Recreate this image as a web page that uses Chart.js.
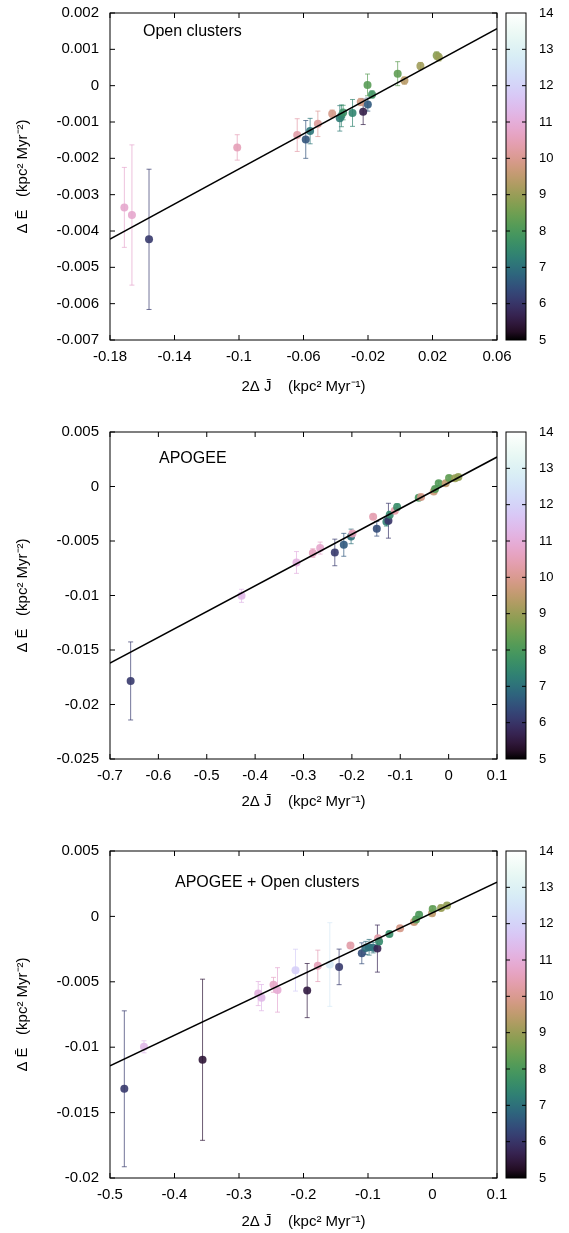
<!DOCTYPE html>
<html>
<head>
<meta charset="utf-8">
<script src="https://cdn.jsdelivr.net/npm/chart.js@4.4.1/dist/chart.umd.min.js"></script>
<style>
  body { margin: 0; background: #fff; width: 569px; height: 1233px; position: relative; overflow: hidden; }
  canvas { position: absolute; left: 0; }
</style>
</head>
<body>
<canvas id="oc-chart" width="569" height="400" style="top:0px"></canvas>
<canvas id="apogee-chart" width="569" height="420" style="top:400px"></canvas>
<canvas id="all-chart" width="569" height="413" style="top:820px"></canvas>
<script>
// Open clusters: 2dJ, dE, error on dE, colour value
const ocX = [-0.1711, -0.1664, -0.1558, -0.1011, -0.0639, -0.0586, -0.0559, -0.0511, -0.0422, -0.0375, -0.0365, -0.0354, -0.0296, -0.0245, -0.0230, -0.0201, -0.0203, -0.0175, -0.0016, 0.0026, 0.0125, 0.0226, 0.0239];
const ocY = [-0.00335, -0.00356, -0.00423, -0.00170, -0.00136, -0.00148, -0.00125, -0.00105, -0.00077, -0.00090, -0.00083, -0.00074, -0.00075, -0.00045, -0.00072, -0.00052, 0.00002, -0.00024, 0.00033, 0.00014, 0.00054, 0.00083, 0.00078];
const ocErr = [0.0011, 0.00193, 0.00193, 0.00035, 0.00045, 0.00052, 0.00035, 0.00035, 0.0001, 0.00035, 0.0003, 0.0002, 0.00037, 0.0001, 0.00035, 0.00018, 0.0003, 0.0001, 0.00033, 0.0001, 0.0001, 0.0001, 0.0001];
const ocC = [10.8, 10.8, 6.1, 10.5, 10.3, 6.5, 7.1, 10.1, 9.9, 7.2, 7.4, 7.7, 7.4, 9.8, 5.6, 6.6, 8.2, 7.8, 8.3, 9.4, 9.1, 8.8, 9.0];
const ocFit = [0.02414, 0.00012]; // slope, intercept

// APOGEE
const apX = [-0.6573, -0.4281, -0.3145, -0.2807, -0.2656, -0.2353, -0.2167, -0.2016, -0.1988, -0.1561, -0.1485, -0.1286, -0.1244, -0.1217, -0.1114, -0.1065, -0.0618, -0.0570, -0.0308, -0.0281, -0.0205, -0.0060, 0.0009, 0.0133, 0.0201];
const apY = [-0.01784, -0.01003, -0.00697, -0.00611, -0.00565, -0.00605, -0.00535, -0.00458, -0.00431, -0.00278, -0.00388, -0.00323, -0.00314, -0.00259, -0.00222, -0.00189, -0.00103, -0.00097, -0.00045, -0.00023, 0.00029, 0.00029, 0.00078, 0.00075, 0.00087];
const apErr = [0.00358, 0.0006, 0.001, 0.0004, 0.00055, 0.00122, 0.00105, 0.00067, 0.0002, 0.0002, 0.00067, 0.0004, 0.0016, 0.0003, 0.0002, 0.0003, 0.0002, 0.0002, 0.0002, 0.0002, 0.0002, 0.0002, 0.0002, 0.0002, 0.0002];
const apC = [6.1, 11.3, 11.1, 10.6, 10.8, 6.1, 6.6, 7.0, 10.5, 10.4, 6.4, 7.3, 6.0, 7.5, 10.3, 7.6, 7.9, 9.9, 9.7, 8.1, 8.1, 9.5, 8.3, 9.0, 8.9];
const apFit = [0.02364, 0.00034];

// APOGEE + open clusters
const alX = [-0.4778, -0.4473, -0.3565, -0.2702, -0.2651, -0.2465, -0.2403, -0.2124, -0.1943, -0.1778, -0.1592, -0.1448, -0.1272, -0.1096, -0.1034, -0.0983, -0.0921, -0.0854, -0.0844, -0.0828, -0.0668, -0.0503, -0.0286, -0.0255, -0.0208, -0.0007, 0.0003, 0.0133, 0.0226];
const alY = [-0.01318, -0.00997, -0.01096, -0.0059, -0.00621, -0.00523, -0.00562, -0.00411, -0.00567, -0.00378, -0.00368, -0.00386, -0.00223, -0.00282, -0.00241, -0.00236, -0.00239, -0.00246, -0.00167, -0.00192, -0.00134, -0.00091, -0.00042, -0.00024, 0.00013, 0.00024, 0.00057, 0.00065, 0.00083];
const alErr = [0.00596, 0.00046, 0.00616, 0.00092, 0.001, 0.00057, 0.0017, 0.0016, 0.00207, 0.0012, 0.0032, 0.00136, 0.0002, 0.0008, 0.0005, 0.0006, 0.0004, 0.0018, 0.0002, 0.0002, 0.0002, 0.0002, 0.0002, 0.0002, 0.0002, 0.0002, 0.0002, 0.0002, 0.0002];
const alC = [6.1, 11.3, 5.4, 11.1, 11.3, 10.7, 10.9, 11.9, 5.5, 10.5, 12.7, 6.1, 10.3, 6.4, 6.9, 7.0, 7.0, 5.7, 10.3, 7.5, 7.6, 9.9, 9.7, 8.1, 8.0, 9.5, 8.3, 9.0, 8.9];
const alFit = [0.02338, 0.00027];

// axis ranges [min, max, step]
const ocXAxis = [-0.18, 0.06, 0.04], ocYAxis = [-0.007, 0.002, 0.001];
const apXAxis = [-0.7, 0.1, 0.1], apYAxis = [-0.025, 0.005, 0.005];
const alXAxis = [-0.5, 0.1, 0.1], alYAxis = [-0.02, 0.005, 0.005];
const cbAxis = [5, 14, 1];

Chart.defaults.font.family = '"Liberation Sans", Arial, sans-serif';
Chart.defaults.color = '#000';

// cubehelix colour map (gnuplot style, gamma 1.5), t from 0 to 1
function cubehelix(t) {
  const phi = 2 * Math.PI * (0.5 / 3 - 1.5 * t);
  const tg = Math.pow(t, 1 / 1.5);
  const a = tg * (1 - tg) / 2;
  const c = Math.cos(phi), s = Math.sin(phi);
  const r = tg + a * (-0.14861 * c + 1.78277 * s);
  const g = tg + a * (-0.29227 * c - 0.90649 * s);
  const b = tg + a * (1.97294 * c);
  return [r, g, b].map(v => Math.round(255 * Math.min(1, Math.max(0, v))));
}

function colour(val, alpha) {
  const [r, g, b] = cubehelix((val - cbAxis[0]) / (cbAxis[1] - cbAxis[0]));
  return `rgba(${r}, ${g}, ${b}, ${alpha})`;
}

const fmt = v => String(+(+v).toFixed(4));

// error bars, frame with inward ticks, colour bar and panel label
const framePlugin = {
  id: 'frame',
  beforeDatasetsDraw(chart) {
    const ctx = chart.ctx, xs = chart.scales.x, ys = chart.scales.y;
    const ds = chart.data.datasets[1];
    ctx.save();
    ctx.lineWidth = 1;
    ds.data.forEach((p, i) => {
      const px = xs.getPixelForValue(p.x);
      const top = ys.getPixelForValue(p.y + ds.errs[i]);
      const bot = ys.getPixelForValue(p.y - ds.errs[i]);
      ctx.strokeStyle = colour(ds.cvals[i], 0.7);
      ctx.beginPath();
      ctx.moveTo(px, top); ctx.lineTo(px, bot);
      ctx.moveTo(px - 2.5, top); ctx.lineTo(px + 2.5, top);
      ctx.moveTo(px - 2.5, bot); ctx.lineTo(px + 2.5, bot);
      ctx.stroke();
    });
    ctx.restore();
  },
  afterDraw(chart, args, opts) {
    const ctx = chart.ctx, area = chart.chartArea;
    const xs = chart.scales.x, ys = chart.scales.y, cb = chart.scales.cb;
    ctx.save();
    ctx.strokeStyle = '#000';
    ctx.lineWidth = 1;
    ctx.strokeRect(area.left, area.top, area.right - area.left, area.bottom - area.top);
    ctx.beginPath();
    xs.ticks.forEach(t => {
      const px = xs.getPixelForValue(t.value);
      ctx.moveTo(px, area.bottom); ctx.lineTo(px, area.bottom - 5);
      ctx.moveTo(px, area.top); ctx.lineTo(px, area.top + 5);
    });
    ys.ticks.forEach(t => {
      const py = ys.getPixelForValue(t.value);
      ctx.moveTo(area.left, py); ctx.lineTo(area.left + 5, py);
      ctx.moveTo(area.right, py); ctx.lineTo(area.right - 5, py);
    });
    ctx.stroke();

    // colour bar
    const bx = area.right + 9, bw = 20;
    const bTop = cb.getPixelForValue(cbAxis[1]), bBot = cb.getPixelForValue(cbAxis[0]);
    const grad = ctx.createLinearGradient(0, bBot, 0, bTop);
    for (let i = 0; i <= 40; i++) {
      const [r, g, b] = cubehelix(i / 40);
      grad.addColorStop(i / 40, `rgb(${r}, ${g}, ${b})`);
    }
    ctx.fillStyle = grad;
    ctx.fillRect(bx, bTop, bw, bBot - bTop);
    ctx.strokeRect(bx, bTop, bw, bBot - bTop);
    ctx.beginPath();
    cb.ticks.forEach(t => {
      if (t.value <= cbAxis[0] || t.value >= cbAxis[1]) return;
      const py = cb.getPixelForValue(t.value);
      ctx.moveTo(bx, py); ctx.lineTo(bx + 4, py);
      ctx.moveTo(bx + bw, py); ctx.lineTo(bx + bw - 4, py);
    });
    ctx.stroke();

    // panel label
    ctx.fillStyle = '#000';
    ctx.font = '16px "Liberation Sans", Arial, sans-serif';
    ctx.textBaseline = 'middle';
    ctx.fillText(opts.label, area.left + opts.dx, area.top + opts.dy);
    ctx.restore();
  }
};

// invisible tick marks push the labels out without adding top padding
const hiddenTicks = len => ({ display: true, drawOnChartArea: false, drawTicks: true, tickLength: len, color: 'rgba(0,0,0,0)' });

function makeChart(id, xData, yData, errs, cvals, fit, xAxis, yAxis, lay) {
  const points = xData.map((x, i) => ({ x: x, y: yData[i] }));
  const fitLine = [xAxis[0], xAxis[1]].map(x => ({ x: x, y: fit[0] * x + fit[1] }));
  return new Chart(document.getElementById(id).getContext('2d'), {
    type: 'scatter',
    data: {
      datasets: [
        {
          data: fitLine,
          showLine: true,
          borderColor: '#000',
          borderWidth: 1.5,
          pointRadius: 0,
          order: 0
        },
        {
          data: points,
          errs: errs,
          cvals: cvals,
          backgroundColor: cvals.map(c => colour(c, 0.9)),
          borderWidth: 0,
          pointRadius: 4,
          order: 1
        }
      ]
    },
    options: {
      responsive: false,
      animation: false,
      layout: { padding: { top: lay.top, left: 0, right: 0, bottom: 0 } },
      plugins: {
        legend: { display: false },
        tooltip: { enabled: false },
        frame: { label: lay.label, dx: lay.dx, dy: lay.dy }
      },
      scales: {
        x: {
          min: xAxis[0], max: xAxis[1],
          grid: hiddenTicks(8),
          border: { display: false },
          ticks: { stepSize: xAxis[2], autoSkip: false, maxRotation: 0, padding: 0, font: { size: 15 }, callback: fmt },
          title: { display: true, text: '2\u0394 J\u0304    (kpc\u00b2 Myr\u207b\u00b9)', font: { size: 15 }, padding: { top: 0, bottom: lay.titleBottom } },
          afterFit: s => { s.height = lay.xh; }
        },
        y: {
          position: 'left',
          min: yAxis[0], max: yAxis[1],
          grid: hiddenTicks(11),
          border: { display: false },
          ticks: { stepSize: yAxis[2], autoSkip: false, padding: 0, font: { size: 15 }, callback: fmt },
          title: { display: true, text: '\u0394 \u0112   (kpc\u00b2 Myr\u207b\u00b2)', font: { size: 15 }, padding: { top: 14, bottom: 0 } },
          afterFit: s => { s.width = 110; }
        },
        cb: {
          display: true,
          position: 'right',
          min: cbAxis[0], max: cbAxis[1],
          grid: hiddenTicks(42),
          border: { display: false },
          ticks: { stepSize: cbAxis[2], autoSkip: false, padding: 0, font: { size: 13 } },
          afterFit: s => { s.width = 72; }
        }
      }
    },
    plugins: [framePlugin]
  });
}

makeChart('oc-chart', ocX, ocY, ocErr, ocC, ocFit, ocXAxis, ocYAxis,
  { top: 13, xh: 60, titleBottom: 4, label: 'Open clusters', dx: 33, dy: 19 });
makeChart('apogee-chart', apX, apY, apErr, apC, apFit, apXAxis, apYAxis,
  { top: 32, xh: 61, titleBottom: 9, label: 'APOGEE', dx: 49, dy: 27 });
makeChart('all-chart', alX, alY, alErr, alC, alFit, alXAxis, alYAxis,
  { top: 31, xh: 55, titleBottom: 2, label: 'APOGEE + Open clusters', dx: 65, dy: 32 });
</script>
</body>
</html>
